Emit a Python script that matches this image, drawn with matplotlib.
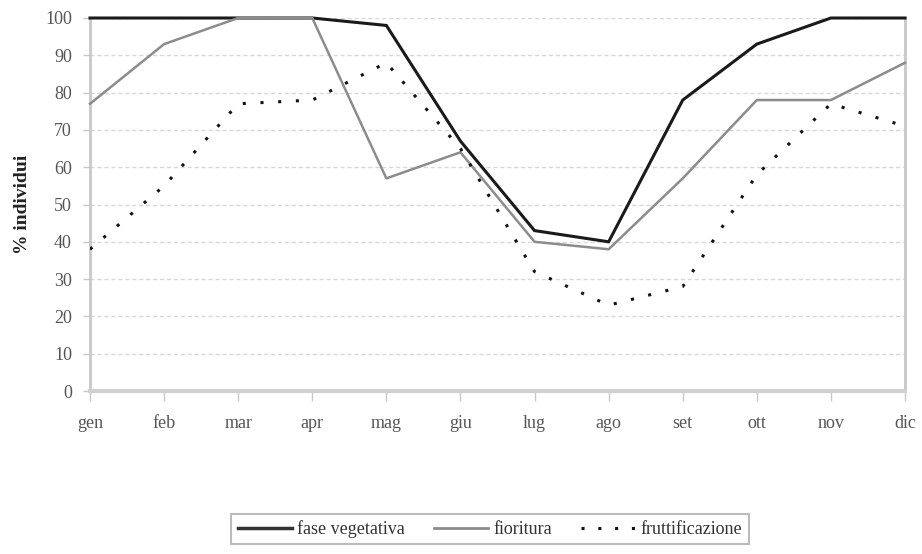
import matplotlib
matplotlib.use("Agg")
import matplotlib.pyplot as plt
from matplotlib.lines import Line2D

months = ["gen", "feb", "mar", "apr", "mag", "giu", "lug", "ago", "set", "ott", "nov", "dic"]
fase_vegetativa = [100, 100, 100, 100, 98, 67, 43, 40, 78, 93, 100, 100]
fioritura = [77, 93, 100, 100, 57, 64, 40, 38, 57, 78, 78, 88]
fruttificazione = [38, 55, 77, 78, 88, 65, 32, 23, 28, 58, 77, 71]
yticks = list(range(0, 101, 10))

plt.rcParams['font.family'] = ['Liberation Serif', 'DejaVu Serif']

fig = plt.figure(figsize=(9.22, 5.54), dpi=100)
ax = fig.add_axes([90/922, 1 - 391/554, (905 - 90)/922, (391 - 18)/554])

x = list(range(len(months)))
ax.plot(x, fase_vegetativa, color='#1a1a1a', lw=2.2, zorder=3, clip_on=False,
        solid_joinstyle='miter')
ax.plot(x, fioritura, color='#8c8c8c', lw=1.8, zorder=4, clip_on=False)
ax.plot(x, fruttificazione, color='#111111', lw=2.2, linestyle=(0, (1, 4.8)), zorder=5)

ax.set_xlim(0, 11)
ax.set_ylim(0, 100)
ax.set_yticks(yticks)
ax.set_xticks(x)
ax.set_xticklabels(months)
for y in yticks[1:]:
    ax.axhline(y, color='#d8d8d8', lw=1.0, linestyle=(0, (3, 2)), zorder=1)

ax.spines['top'].set_visible(False)
ax.spines['left'].set_color('#c8c8c8')
ax.spines['left'].set_linewidth(2)
ax.spines['right'].set_color('#c8c8c8')
ax.spines['right'].set_linewidth(2)
ax.spines['bottom'].set_color('#d0d0d0')
ax.spines['bottom'].set_linewidth(3)

ax.tick_params(axis='y', length=5, width=1, color='#c8c8c8', labelsize=13, labelcolor='#555555', pad=8)
ax.tick_params(axis='x', length=7, width=1, color='#c8c8c8', labelsize=13, labelcolor='#555555', pad=10)

ax.set_ylabel('% individui', fontsize=14, fontweight='bold', color='#222222', labelpad=10)

handles = [
    Line2D([], [], color='#333333', lw=2.5),
    Line2D([], [], color='#8c8c8c', lw=2.0),
    Line2D([], [], color='#111111', lw=2.2, linestyle=(0, (1, 4.5))),
]
leg = fig.legend(handles, ['fase vegetativa', 'fioritura', 'fruttificazione'],
                 loc='center', bbox_to_anchor=(490/922, 1 - 529/554), ncol=3,
                 frameon=True, fancybox=False, fontsize=13, handlelength=3.0,
                 handletextpad=0.3, columnspacing=1.6, borderpad=0.35)
leg.get_frame().set_edgecolor('#aaaaaa')
leg.get_frame().set_linewidth(1.5)
for t in leg.get_texts():
    t.set_color('#333333')

fig.savefig('out.png', dpi=100)
